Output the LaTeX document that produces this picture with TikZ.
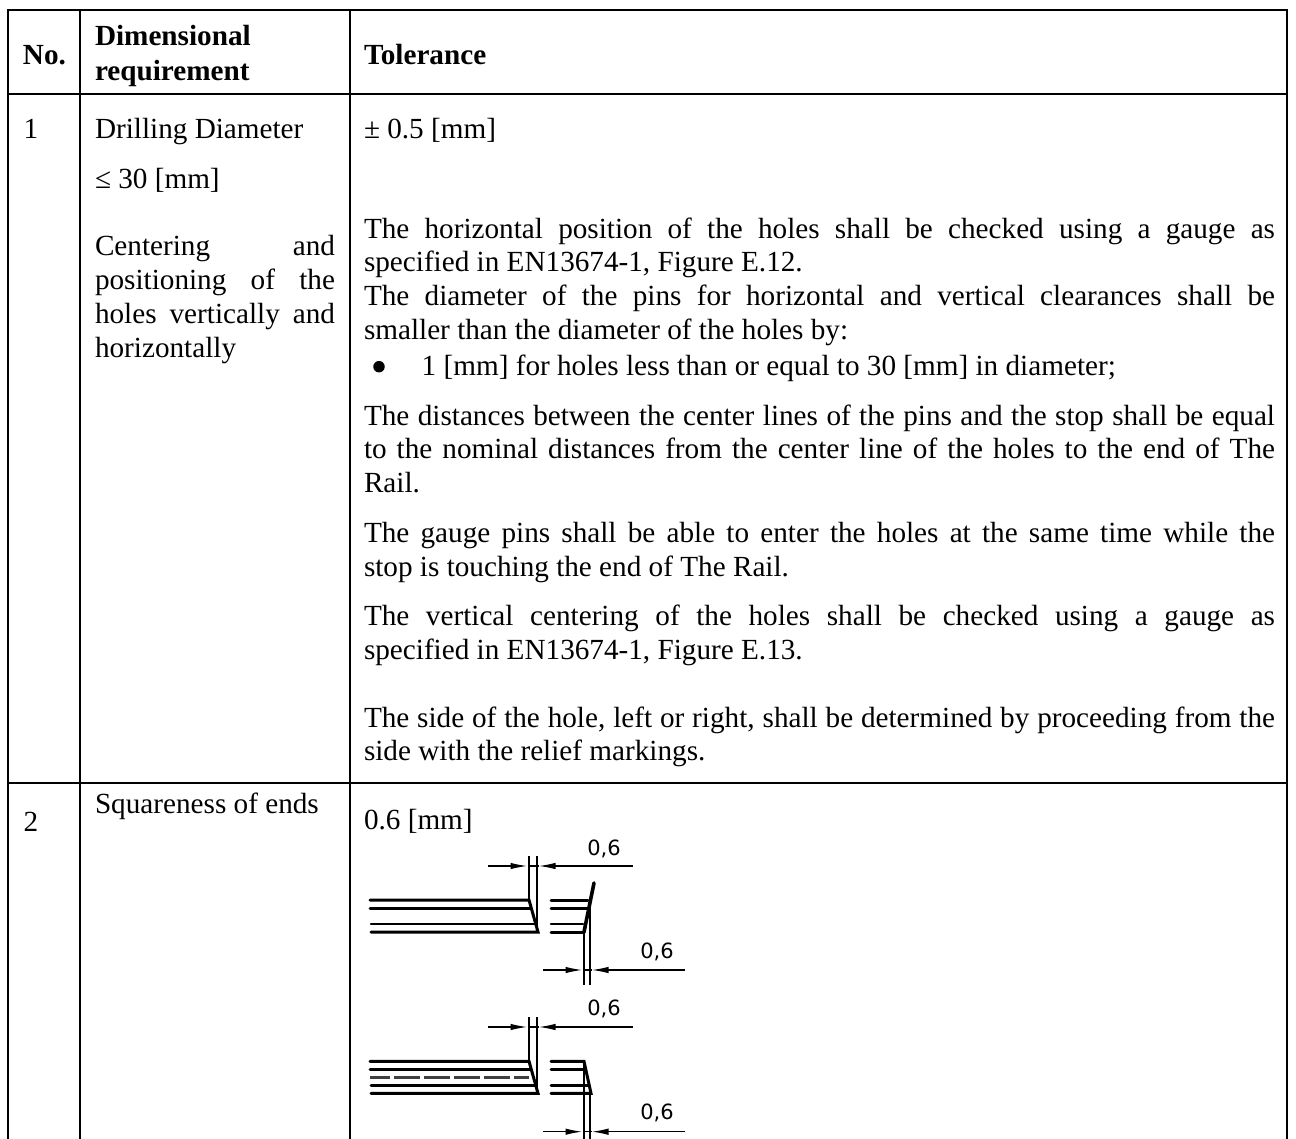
\documentclass[tikz,border=0pt]{standalone}
\usepackage{fontspec}
\setmainfont{Liberation Serif}
\newfontfamily\dimfont{DejaVu Sans}
\usetikzlibrary{arrows.meta}
\newcommand{\jl}[2]{\hbox to #1pt{#2}}
\tikzset{
  rule/.style={line width=2pt,black,line cap=rect},
  txt/.style={anchor=base west,inner sep=0pt,outer sep=0pt,yshift=-1pt,font=\fontsize{29.2}{34}\selectfont},
  hdr/.style={txt,font=\fontsize{29.2}{34}\selectfont\bfseries},
  dimtxt/.style={anchor=base,inner sep=0pt,font=\fontsize{21}{24}\dimfont},
  heavy/.style={line width=3pt,black,line cap=round},
  mid/.style={line width=2.6pt,black,line cap=round},
  ext/.style={line width=1.9pt,black},
  dim/.style={line width=1.5pt,black,-{Latex[length=17pt,width=6.5pt]}},
  dimc/.style={line width=1.5pt,black},
}
\begin{document}
\begin{tikzpicture}[x=1pt,y=-1pt]
\useasboundingbox (0,0) rectangle (1296,1139);
\fill[white] (0,0) rectangle (1296,1139);
% table rules
\coordinate (tl) at (8,10); \coordinate (tr) at (1287,10);
\coordinate (hl) at (8,94); \coordinate (hr) at (1287,94);
\coordinate (rl) at (8,783); \coordinate (rr) at (1287,783);
\coordinate (bl) at (8,1139); \coordinate (br) at (1287,1139);
\coordinate (c1t) at (80,10); \coordinate (c1b) at (80,1139);
\coordinate (c2t) at (350,10); \coordinate (c2b) at (350,1139);
\draw[rule] (tl) -- (tr);
\draw[rule] (hl) -- (hr);
\draw[rule] (rl) -- (rr);
\draw[rule,line cap=butt] (tl) -- (bl);
\draw[rule,line cap=butt] (tr) -- (br);
\draw[rule,line cap=butt] (c1t) -- (c1b);
\draw[rule,line cap=butt] (c2t) -- (c2b);
% header
\node[hdr] (hno) at (23,63.5) {No.};
\node[hdr] (hd1) at (95,45) {Dimensional};
\node[hdr] (hd2) at (95,80) {requirement};
\node[hdr] (htol) at (364,63.5) {Tolerance};
% left columns
\node[txt] (n1) at (23.5,138) {1};
\node[txt] (a1) at (95,138) {Drilling Diameter};
\node[txt] (a2) at (95,188) {≤ 30 [mm]};
\node[txt] (a3) at (95,255) {\jl{240}{Centering and}};
\node[txt] (a4) at (95,289) {\jl{240}{positioning of the}};
\node[txt] (a5) at (95,322.7) {\jl{240}{holes vertically and}};
\node[txt] (a6) at (95,356.7) {horizontally};
\node[txt] (n2) at (23.5,830) {2};
\node[txt] (a7) at (95,812) {Squareness of ends};
% tolerance column
\node[txt] (b0) at (364,138) {± 0.5 [mm]};
\node[txt] (b1) at (364,237.3) {\jl{911}{The horizontal position of the holes shall be checked using a gauge as}};
\node[txt] (b2) at (364,270.7) {specified in EN13674-1, Figure E.12.};
\node[txt] (b3) at (364,304.3) {\jl{911}{The diameter of the pins for horizontal and vertical clearances shall be}};
\node[txt] (b4) at (364,338.3) {smaller than the diameter of the holes by:};
\node[circle,fill=black,inner sep=0pt,minimum size=11.5pt] (bul) at (379,366.7) {};
\node[txt] (b5) at (421.7,374.3) {1 [mm] for holes less than or equal to 30 [mm] in diameter;};
\node[txt] (b6) at (364,425) {\jl{911}{The distances between the center lines of the pins and the stop shall be equal}};
\node[txt] (b7) at (364,457.3) {\jl{911}{to the nominal distances from the center line of the holes to the end of The}};
\node[txt] (b8) at (364,491.7) {Rail.};
\node[txt] (b9) at (364,541.7) {\jl{911}{The gauge pins shall be able to enter the holes at the same time while the}};
\node[txt] (b10) at (364,575.7) {stop is touching the end of The Rail.};
\node[txt] (b11) at (364,624.7) {\jl{911}{The vertical centering of the holes shall be checked using a gauge as}};
\node[txt] (b12) at (364,658.3) {specified in EN13674-1, Figure E.13.};
\node[txt] (b13) at (364,726.7) {\jl{911}{The side of the hole, left or right, shall be determined by proceeding from the}};
\node[txt] (b14) at (364,759.3) {side with the relief markings.};
\node[txt] (b15) at (364,828) {0.6 [mm]};
% dimension values
\node[dimtxt] (d1) at (604,855) {0,6};
\node[dimtxt] (d2) at (657,958) {0,6};
\node[dimtxt] (d3) at (604,1015) {0,6};
\node[dimtxt] (d4) at (657,1119) {0,6};
% upper left part
\draw[heavy] (370,900) -- (529,900) -- (538,932) -- (371,932);
\draw[mid] (370,908.3) -- (531,908.3);
\draw[mid] (371,924) -- (536,924);
\draw[ext] (529,856) -- (529,900);
\draw[ext] (537,856) -- (537,932);
\draw[dim] (488,866) -- (527.5,866);
\draw[dimc] (527.5,866) -- (538.5,866);
\draw[dim] (632.5,866) -- (538.5,866);
% upper right part
\draw[heavy] (551,900) -- (588,900);
\draw[mid] (551,908.3) -- (587,908.3);
\draw[mid] (551,924) -- (583,924);
\draw[heavy] (551,932) -- (584,932);
\draw[heavy,line width=3.6pt] (594,883) -- (584,932);
\draw[ext] (584,932) -- (584,985);
\draw[ext] (590,905) -- (590,985);
\draw[dim] (543,970) -- (582.5,970);
\draw[dimc] (582.5,970) -- (591.5,970);
\draw[dim] (685,970) -- (591.5,970);
% lower left part
\draw[heavy] (370,1061.3) -- (529,1061.3) -- (538,1093.3) -- (371,1093.3);
\draw[mid] (370,1069.7) -- (531,1069.7);
\draw[line width=2.5pt,black!75,dash pattern=on 26pt off 4pt,dash phase=6pt] (370,1077.7) -- (529,1077.7);
\draw[mid] (371,1085.3) -- (536,1085.3);
\draw[ext] (529,1017) -- (529,1061);
\draw[ext] (537,1017) -- (537,1093);
\draw[dim] (488,1027) -- (527.5,1027);
\draw[dimc] (527.5,1027) -- (538.5,1027);
\draw[dim] (632.5,1027) -- (538.5,1027);
% lower right part
\draw[heavy] (551,1061.3) -- (584,1061.3) -- (591,1093.3) -- (551,1093.3);
\draw[mid] (551,1069.7) -- (585,1069.7);
\draw[mid] (551,1085.3) -- (589,1085.3);
\draw[ext] (584,1061) -- (584,1139);
\draw[ext] (590,1085) -- (590,1139);
\draw[dim] (543,1131.7) -- (582.5,1131.7);
\draw[dimc] (582.5,1131.7) -- (591.5,1131.7);
\draw[dim] (685,1131.7) -- (591.5,1131.7);
\end{tikzpicture}
\end{document}
